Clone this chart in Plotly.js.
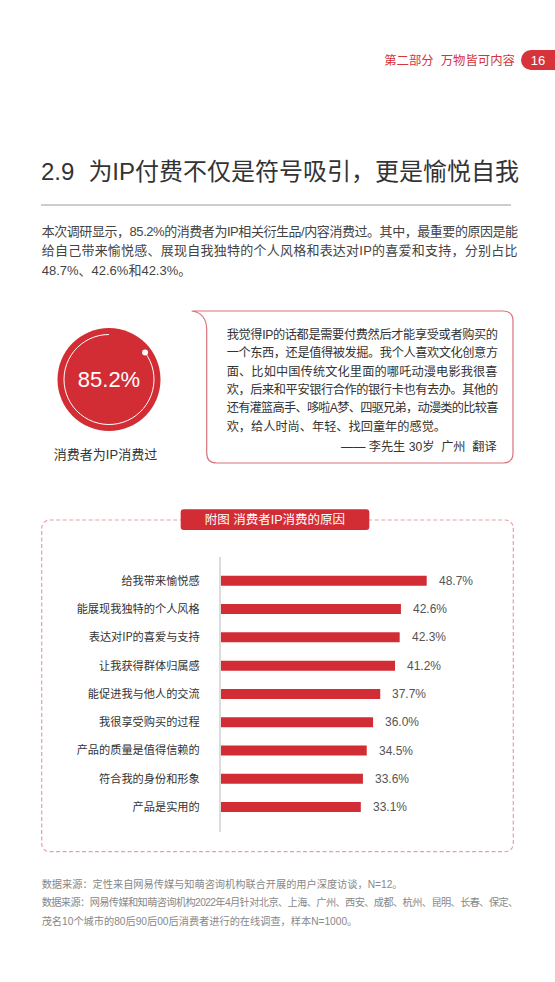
<!DOCTYPE html>
<html>
<head>
<meta charset="utf-8">
<script src="https://cdn.plot.ly/plotly-3.0.1.min.js"></script>
<style>
html,body{margin:0;padding:0;background:#fff;}
body{width:555px;height:982px;position:relative;overflow:hidden;font-family:"Liberation Sans","Noto Sans CJK SC",sans-serif;}
.t{position:absolute;white-space:nowrap;}
#bg{position:absolute;left:0;top:0;}
#chart{position:absolute;left:0;top:540px;width:555px;height:310px;}
</style>
</head>
<body>
<svg id="bg" width="555" height="982"></svg>
<div id="texts"></div>
<div id="chart"></div>
<script>
// ---- data ----
const categories = [
  "给我带来愉悦感",
  "能展现我独特的个人风格",
  "表达对IP的喜爱与支持",
  "让我获得群体归属感",
  "能促进我与他人的交流",
  "我很享受购买的过程",
  "产品的质量是值得信赖的",
  "符合我的身份和形象",
  "产品是实用的"
];
const values = [48.7, 42.6, 42.3, 41.2, 37.7, 36.0, 34.5, 33.6, 33.1];
const valueLabels = values.map(v => v.toFixed(1) + "%");
const highlightShare = 85.2;
const highlightLabel = "消费者为IP消费过";
const chartTitle = "附图 消费者IP消费的原因";
const headerText = "第二部分&nbsp; 万物皆可内容";
const pageNumber = "16";
const titleNum = "2.9";
const titleText = "为IP付费不仅是符号吸引，更是愉悦自我";
const paraLines = [
  "本次调研显示，85.2%的消费者为IP相关衍生品/内容消费过。其中，最重要的原因是能",
  "给自己带来愉悦感、展现自我独特的个人风格和表达对IP的喜爱和支持，分别占比",
  "48.7%、42.6%和42.3%。"
];
const quoteLines = [
  "我觉得IP的话都是需要付费然后才能享受或者购买的",
  "一个东西，还是值得被发掘。我个人喜欢文化创意方",
  "面、比如中国传统文化里面的哪吒动漫电影我很喜",
  "欢，后来和平安银行合作的银行卡也有去办。其他的",
  "还有灌篮高手、哆啦A梦、四驱兄弟，动漫类的比较喜",
  "欢，给人时尚、年轻、找回童年的感觉。"
];
const quoteSign = "—— 李先生 30岁&nbsp; 广州&nbsp; 翻译";
const footLines = [
  "数据来源：定性来自网易传媒与知萌咨询机构联合开展的用户深度访谈，N=12。",
  "数据来源：网易传媒和知萌咨询机构2022年4月针对北京、上海、广州、西安、成都、杭州、昆明、长春、保定、",
  "茂名10个城市的80后90后00后消费者进行的在线调查，样本N=1000。"
];

const RED = "#d22d35";

// ---- decorative svg ----
const svg = document.getElementById("bg");
function el(tag, attrs){const e=document.createElementNS("http://www.w3.org/2000/svg",tag);for(const k in attrs)e.setAttribute(k,attrs[k]);svg.appendChild(e);return e;}
el("rect",{x:521,y:50,width:50,height:20,rx:10,fill:"#d6333b"});
el("line",{x1:41,y1:205,x2:511,y2:205,stroke:"#9a9a9a","stroke-width":1});
const cx=109, cy=379.5;
el("circle",{cx:cx,cy:cy,r:51.5,fill:RED});
const gap=(1-highlightShare/100)*2*Math.PI, rr=45;
const sx=cx+rr*Math.sin(gap), sy=cy-rr*Math.cos(gap);
el("path",{d:`M ${sx} ${sy} A ${rr} ${rr} 0 1 1 ${cx} ${cy-rr}`,fill:"none",stroke:"#fff","stroke-width":1});
el("circle",{cx:sx,cy:sy,r:3,fill:"#fff"});
el("path",{d:"M 191.7 311 L 503 311 Q 513 311 513 321 L 513 453 Q 513 463 503 463 L 216.7 463 Q 206.7 463 206.7 453 L 206.7 330 Q 206.7 313 191.7 311 Z",fill:"none",stroke:"#d9737b","stroke-width":1.2});
el("rect",{x:41.7,y:520,width:471.6,height:331.7,rx:8,fill:"none",stroke:"#e8a0a6","stroke-width":1.2,"stroke-dasharray":"4 2.5"});
el("rect",{x:180.7,y:509.3,width:188.6,height:20.7,rx:3,fill:RED});

// ---- texts ----
const T=document.getElementById("texts");
function txt(html, style){const d=document.createElement("div");d.className="t";d.innerHTML=html;Object.assign(d.style,style);T.appendChild(d);return d;}
function cen(y,lh){return (y-lh/2)+"px";}
function fit(d,target){
  d.style.letterSpacing="0px";
  const w=d.getBoundingClientRect().width;
  const n=Array.from(d.textContent).length;
  d.style.letterSpacing=((target-w)/n)+"px";
}
txt(headerText,{right:"40px",top:cen(60.7,20),lineHeight:"20px",fontSize:"12.4px",color:"#d6333b"});
txt(pageNumber,{left:"521px",width:"34px",textAlign:"center",top:cen(60.5,20),lineHeight:"20px",fontSize:"13px",color:"#fff"});
txt(`${titleNum}<span style="display:inline-block;width:14px"></span>${titleText}`,{left:"41px",top:cen(172,30),lineHeight:"30px",fontSize:"24px",color:"#333"});
const paraY=[231.7,250.9,270.5];
paraLines.forEach((s,i)=>{const d=txt(s,{left:"41.7px",top:cen(paraY[i],20),lineHeight:"20px",fontSize:"13px",color:"#444"});if(i<2)fit(d,476);});
txt(highlightShare.toFixed(1)+"%",{left:"59px",width:"100px",textAlign:"center",top:cen(379.5,26),lineHeight:"26px",fontSize:"22px",color:"#fff"});
txt(highlightLabel,{left:"30px",width:"151px",textAlign:"center",top:cen(455,18),lineHeight:"18px",fontSize:"13px",color:"#333"});
const qY=[335,353.3,371.7,390,408.3,426.7];
quoteLines.forEach((s,i)=>{const d=txt(s,{left:"226.7px",top:cen(qY[i],18),lineHeight:"18px",fontSize:"12.2px",color:"#333"});if(i<5)fit(d,271);});
txt(quoteSign,{right:(555-496.7)+"px",top:cen(446.7,18),lineHeight:"18px",fontSize:"12.2px",color:"#333"});
txt(chartTitle,{left:"180.7px",width:"188.6px",textAlign:"center",top:cen(519.7,20),lineHeight:"20px",fontSize:"12.5px",color:"#fff"});
const fY=[885,903.3,922.3];
footLines.forEach((s,i)=>{const d=txt(s,{left:"41.7px",top:cen(fY[i],16),lineHeight:"16px",fontSize:"10.2px",color:"#888"});if(i===1)fit(d,476);});

// ---- chart ----
const pxPerUnit = 4.224;
const plotW = 555-221-55;
const trace = {
  type:"bar", orientation:"h",
  x: values, y: categories,
  width: 0.353,
  marker:{color:RED},
  hoverinfo:"none"
};
const annotations = values.map((v,i)=>({
  x:v, y:categories[i], xref:"x", yref:"y",
  text:valueLabels[i], showarrow:false, xanchor:"left", xshift:10,
  font:{family:"Liberation Sans, Noto Sans CJK SC",size:12,color:"#555"}
}));
const layout = {
  width:555, height:310,
  margin:{l:221,r:55,t:17,b:18,pad:0},
  paper_bgcolor:"rgba(0,0,0,0)", plot_bgcolor:"rgba(0,0,0,0)",
  showlegend:false,
  xaxis:{range:[0, plotW/pxPerUnit], visible:false, fixedrange:true},
  yaxis:{type:"category", range:[8.88,-0.84], showgrid:false, zeroline:false,
         showline:true, linecolor:"#dcdcdc", linewidth:2, ticks:"", ticklabelstandoff:17,
         tickfont:{family:"Noto Sans CJK SC, Liberation Sans",size:11.2,color:"#333"}, fixedrange:true},
  annotations:annotations,
  font:{family:"Noto Sans CJK SC, Liberation Sans"}
};
Plotly.newPlot("chart",[trace],layout,{displayModeBar:false,staticPlot:true});
</script>
</body>
</html>
